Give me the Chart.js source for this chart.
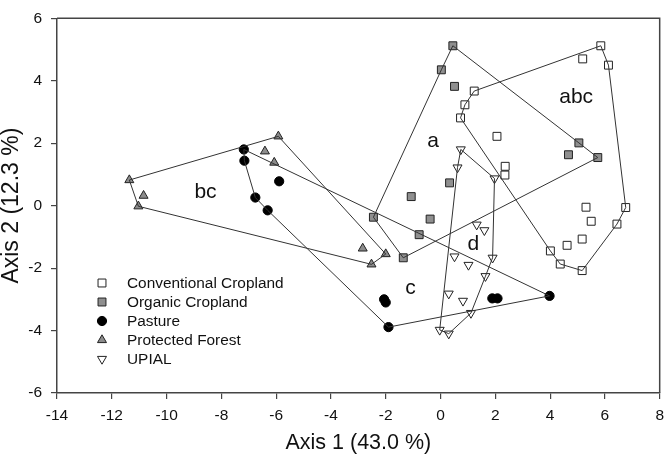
<!DOCTYPE html>
<html>
<head>
<meta charset="utf-8">
<script src="https://cdn.jsdelivr.net/npm/chart.js@4.4.1/dist/chart.umd.min.js"></script>
<style>
  html, body { margin: 0; padding: 0; background: #fff; }
  #wrap { width: 671px; height: 457px; }
</style>
</head>
<body>
<div id="wrap"><canvas id="ordination" width="671" height="457"></canvas></div>
<script>
// ordination scores (axis 1, axis 2)
const conventional = [
  [5.85, 5.12], [5.19, 4.70], [6.13, 4.50], [1.23, 3.67], [0.89, 3.23], [0.73, 2.81],
  [2.06, 2.22], [2.36, 1.26], [2.35, 0.98], [6.76, -0.06], [5.31, -0.05], [5.50, -0.50],
  [6.44, -0.59], [5.17, -1.07], [4.62, -1.27], [4.01, -1.45], [4.37, -1.87], [5.17, -2.08]
];
const organic = [
  [0.45, 5.12], [0.03, 4.35], [0.51, 3.82], [5.05, 2.01], [4.67, 1.63], [5.74, 1.54],
  [0.33, 0.73], [-1.07, 0.29], [-0.38, -0.43], [-2.45, -0.37], [-0.78, -0.93], [-1.36, -1.67]
];
const pasture = [
  [-7.18, 1.80], [-7.16, 1.44], [-5.89, 0.78], [-6.76, 0.26], [-6.31, -0.15],
  [-2.06, -3.00], [-2.00, -3.10], [1.89, -2.97], [2.08, -2.97], [3.98, -2.89], [-1.90, -3.89]
];
const forest = [
  [-5.92, 2.22], [-6.41, 1.74], [-6.07, 1.38], [-11.36, 0.82], [-10.84, 0.32], [-11.03, -0.02],
  [-2.84, -1.37], [-2.00, -1.55], [-2.52, -1.88]
];
const upial = [
  [0.74, 1.80], [0.62, 1.22], [1.97, 0.87], [1.32, -0.61], [1.60, -0.79], [0.51, -1.63],
  [1.02, -1.90], [1.90, -1.67], [1.64, -2.26], [0.30, -2.82], [0.82, -3.05], [1.11, -3.44],
  [-0.03, -3.98], [0.30, -4.10]
];

const groupNames = ['Conventional Cropland', 'Organic Cropland', 'Pasture', 'Protected Forest', 'UPIAL'];
const groupPoints = [conventional, organic, pasture, forest, upial];

const letterText = ['abc', 'a', 'bc', 'c', 'd'];
const letterX = [4.95, -0.27, -8.58, -1.10, 1.20];
const letterY = [3.48, 2.07, 0.44, -2.65, -1.23];

const xTicks = [-14, -12, -10, -8, -6, -4, -2, 0, 2, 4, 6, 8];
const yTicks = [-6, -4, -2, 0, 2, 4, 6];

const markers = [
  { pointStyle: 'rect', radius: 5.6, fill: '#ffffff', rotation: 0 },
  { pointStyle: 'rect', radius: 5.6, fill: '#8f8f8f', rotation: 0 },
  { pointStyle: 'circle', radius: 4.6, fill: '#000000', rotation: 0 },
  { pointStyle: 'triangle', radius: 5.2, fill: '#8c8c8c', rotation: 0 },
  { pointStyle: 'triangle', radius: 5.2, fill: '#ffffff', rotation: 180 }
];

const FONT = "'Liberation Sans', Arial, sans-serif";
const AXIS_COLOR = '#444';

function toXY(arr) {
  return arr.map(p => ({ x: p[0], y: p[1] }));
}

// convex hull (monotone chain), closed
function hull(arr) {
  const pts = arr.slice().sort((a, b) => a[0] - b[0] || a[1] - b[1]);
  const cross = (o, a, b) => (a[0] - o[0]) * (b[1] - o[1]) - (a[1] - o[1]) * (b[0] - o[0]);
  const lower = [], upper = [];
  for (const p of pts) {
    while (lower.length >= 2 && cross(lower[lower.length - 2], lower[lower.length - 1], p) <= 0) lower.pop();
    lower.push(p);
  }
  for (let i = pts.length - 1; i >= 0; i--) {
    const p = pts[i];
    while (upper.length >= 2 && cross(upper[upper.length - 2], upper[upper.length - 1], p) <= 0) upper.pop();
    upper.push(p);
  }
  upper.pop();
  const h = lower.concat(upper);
  h.push(h[0]);
  return h;
}

const datasets = [];
groupPoints.forEach((pts, i) => {
  const m = markers[i];
  datasets.push({
    label: groupNames[i],
    data: toXY(pts),
    pointStyle: m.pointStyle,
    pointRotation: m.rotation,
    pointRadius: m.radius,
    pointHoverRadius: m.radius,
    pointBackgroundColor: m.fill,
    pointBorderColor: i === 2 ? '#000' : '#222',
    pointBorderWidth: 1,
    showLine: false,
    order: 1
  });
});
groupPoints.forEach((pts, i) => {
  datasets.push({
    label: groupNames[i] + ' hull',
    data: toXY(hull(pts)),
    showLine: true,
    borderColor: '#333',
    borderWidth: 1,
    pointRadius: 0,
    fill: false,
    tension: 0,
    order: 0
  });
});

function drawMarker(ctx, m, x, y, border) {
  const r = m.radius;
  ctx.save();
  ctx.fillStyle = m.fill;
  ctx.strokeStyle = border;
  ctx.lineWidth = 1;
  ctx.beginPath();
  if (m.pointStyle === 'circle') {
    ctx.arc(x, y, r, 0, Math.PI * 2);
  } else if (m.pointStyle === 'rect') {
    const h = r * Math.SQRT1_2;
    ctx.rect(x - h, y - h, 2 * h, 2 * h);
  } else {
    const s = m.rotation ? -1 : 1;
    const w = r * Math.sin(Math.PI / 3);
    ctx.moveTo(x, y - s * r);
    ctx.lineTo(x + w, y + s * r / 2);
    ctx.lineTo(x - w, y + s * r / 2);
    ctx.closePath();
  }
  ctx.fill();
  ctx.stroke();
  ctx.restore();
}

const framePlugin = {
  id: 'frame',
  afterDraw(chart) {
    const { ctx, chartArea: a } = chart;
    ctx.save();
    ctx.strokeStyle = AXIS_COLOR;
    ctx.lineWidth = 1.5;
    ctx.beginPath();
    ctx.moveTo(a.left, a.top);
    ctx.lineTo(a.right, a.top);
    ctx.lineTo(a.right, a.bottom);
    ctx.stroke();
    ctx.restore();
  }
};

const letterPlugin = {
  id: 'letters',
  afterDatasetsDraw(chart) {
    const { ctx, scales } = chart;
    ctx.save();
    ctx.font = '21px ' + FONT;
    ctx.fillStyle = '#111';
    ctx.textAlign = 'center';
    ctx.textBaseline = 'middle';
    letterText.forEach((t, i) => {
      ctx.fillText(t, scales.x.getPixelForValue(letterX[i]), scales.y.getPixelForValue(letterY[i]));
    });
    ctx.restore();
  }
};

const legendPlugin = {
  id: 'boxLegend',
  afterDraw(chart) {
    const { ctx } = chart;
    const mx = 102, tx = 127, y0 = 283, step = 19;
    ctx.save();
    ctx.font = '15.4px ' + FONT;
    ctx.textAlign = 'left';
    ctx.textBaseline = 'middle';
    groupNames.forEach((name, i) => {
      const y = y0 + i * step;
      drawMarker(ctx, markers[i], mx, y, i === 2 ? '#000' : '#222');
      ctx.fillStyle = '#111';
      ctx.fillText(name, tx, y + 1);
    });
    ctx.restore();
  }
};

new Chart(document.getElementById('ordination'), {
  type: 'scatter',
  data: { datasets },
  options: {
    responsive: false,
    animation: false,
    layout: { padding: { top: 7, right: 7, left: 0, bottom: 0 } },
    plugins: {
      legend: { display: false },
      tooltip: { enabled: false }
    },
    scales: {
      x: {
        type: 'linear',
        min: xTicks[0],
        max: xTicks[xTicks.length - 1],
        afterBuildTicks: s => { s.ticks = xTicks.map(v => ({ value: v })); },
        afterFit: s => { s.height = 64; },
        grid: { display: true, drawOnChartArea: false, drawTicks: true, tickLength: 6, color: AXIS_COLOR, lineWidth: 1.2 },
        border: { display: true, color: AXIS_COLOR, width: 1.5 },
        ticks: { color: '#111', font: { family: FONT, size: 15.5 }, padding: 7, maxRotation: 0, autoSkip: false },
        title: { display: true, text: 'Axis 1 (43.0 %)', color: '#111', font: { family: FONT, size: 21.5, lineHeight: 1 }, padding: { top: 0, bottom: 3 } }
      },
      y: {
        type: 'linear',
        min: yTicks[0],
        max: yTicks[yTicks.length - 1],
        afterBuildTicks: s => { s.ticks = yTicks.map(v => ({ value: v })); },
        afterFit: s => { s.width = 57; },
        grid: { display: true, drawOnChartArea: false, drawTicks: true, tickLength: 6, color: AXIS_COLOR, lineWidth: 1.2 },
        border: { display: true, color: AXIS_COLOR, width: 1.5 },
        ticks: { color: '#111', font: { family: FONT, size: 15.5 }, padding: 9, autoSkip: false },
        title: { display: true, text: 'Axis 2 (12.3 %)', color: '#111', font: { family: FONT, size: 23, lineHeight: 1 }, padding: { top: 0, bottom: 0 } }
      }
    }
  },
  plugins: [framePlugin, letterPlugin, legendPlugin]
});
</script>
</body>
</html>
